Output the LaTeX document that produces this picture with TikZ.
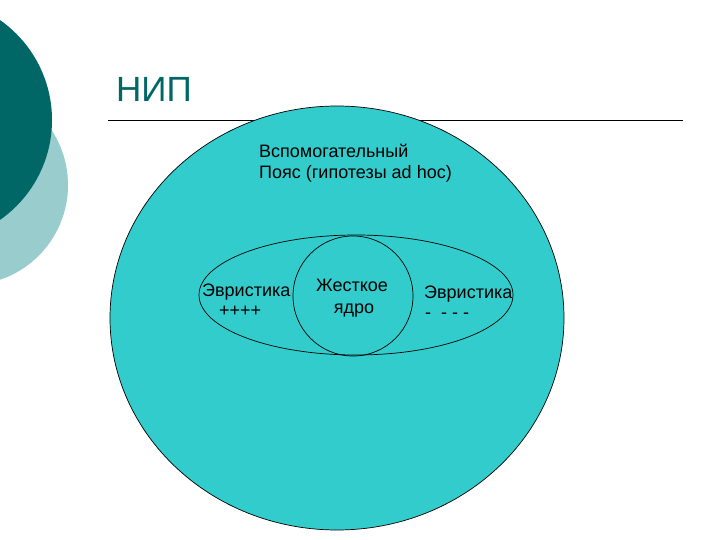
\documentclass[tikz,border=0pt]{standalone}
\usepackage{fontspec}
\setmainfont{Liberation Sans}
\usetikzlibrary{shapes.geometric}
\definecolor{darkteal}{RGB}{0,102,102}
\definecolor{lightteal}{RGB}{153,204,204}
\definecolor{midteal}{RGB}{51,204,204}
\begin{document}
\begin{tikzpicture}[x=1pt,y=-1pt,
  lbl/.style={inner sep=0pt,font=\fontsize{18}{21}\selectfont,text=black,align=center},
  outl/.style={draw=black,line width=0.7pt}]
\useasboundingbox (0,0) rectangle (720,540);
\fill[lightteal] (-32,185) circle[radius=100];
\fill[darkteal] (-70,120) circle[radius=122];
\node[inner sep=0pt,anchor=base west,text=darkteal,font=\fontsize{35}{42}\selectfont] (title) at (116,102) {НИП};
\coordinate (l1) at (108,120);
\coordinate (l2) at (683,120);
\draw[black,line width=0.8pt] (l1) -- (l2);
\node[outl,fill=midteal,ellipse,minimum width=454,minimum height=424,inner sep=0pt] (big) at (337,318) {};
\path (356,295) node[outl,ellipse,minimum width=314,minimum height=120,inner sep=0pt] (mid) {};
\path (353,296) node[outl,circle,minimum size=120,inner sep=0pt] (core) {};
\node[lbl,anchor=base west,align=left] (belt) at (259,179) {Вспомогательный\\Пояс (гипотезы ad hoc)};
\node[lbl,anchor=base west] (hl) at (202,296) {Эвристика};
\node[lbl,anchor=base west] (hlp) at (219,316) {++++};
\node[lbl,anchor=base] (c1) at (352,291) {Жесткое};
\node[lbl,anchor=base] (c2) at (354,313) {ядро};
\node[lbl,anchor=base west] (hr) at (424,298) {Эвристика};
\node[lbl,anchor=base west] (hrm) at (425,318) {-\ \ -\ -\ -};
\end{tikzpicture}
\end{document}
